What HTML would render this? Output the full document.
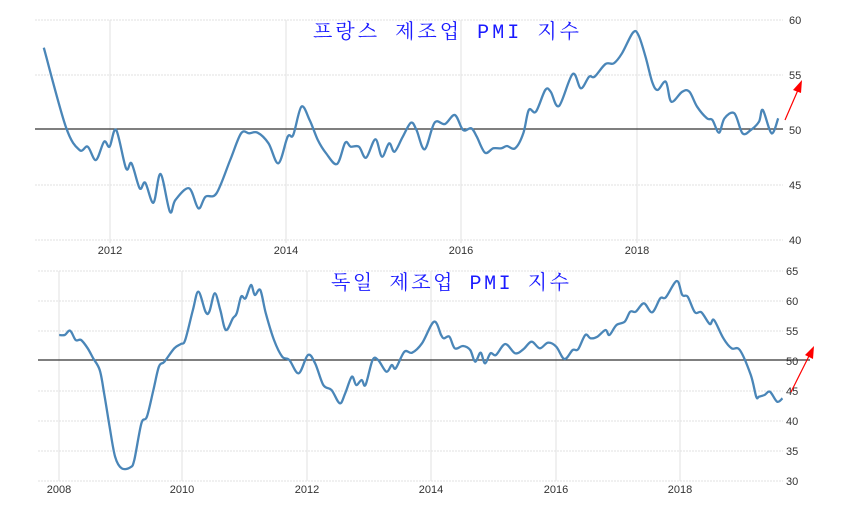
<!DOCTYPE html>
<html><head><meta charset="utf-8"><style>
html,body{margin:0;padding:0;background:#fff;}
svg{display:block;}
.t{font-family:"Liberation Sans",sans-serif;font-size:11px;fill:#333;}
.ti{font-family:"Liberation Mono","Noto Serif CJK SC","Noto Sans CJK KR",monospace;font-size:20px;fill:#1a1aff;letter-spacing:2px;}
</style></head><body>
<svg id="s" width="855" height="529" viewBox="0 0 855 529" xmlns="http://www.w3.org/2000/svg">
<rect width="855" height="529" fill="#fff"/>
<g id="grid" stroke="#e2e2e2" stroke-width="1"></g>
<line x1="35" y1="129" x2="783" y2="129" stroke="#333" stroke-width="1.3"/>
<line x1="38" y1="360" x2="810" y2="360" stroke="#333" stroke-width="1.3"/>
<path id="p1" fill="none" stroke="#4a86b8" stroke-width="2.3" stroke-linejoin="round"/>
<path id="p2" fill="none" stroke="#4a86b8" stroke-width="2.3" stroke-linejoin="round"/>
<text class="ti" x="447" y="38" text-anchor="middle" textLength="268" lengthAdjust="spacing">프랑스 제조업 PMI 지수</text>
<text class="ti" x="451" y="289" text-anchor="middle" textLength="240" lengthAdjust="spacing">독일 제조업 PMI 지수</text>
<g class="t">
<text x="789" y="24">60</text><text x="789" y="79">55</text><text x="789" y="134">50</text><text x="789" y="189">45</text><text x="789" y="244">40</text>
<text x="110" y="254" text-anchor="middle">2012</text><text x="286" y="254" text-anchor="middle">2014</text><text x="461" y="254" text-anchor="middle">2016</text><text x="637" y="254" text-anchor="middle">2018</text>
<text x="786" y="275">65</text><text x="786" y="305">60</text><text x="786" y="335">55</text><text x="786" y="365">50</text><text x="786" y="395">45</text><text x="786" y="425">40</text><text x="786" y="455">35</text><text x="786" y="485">30</text>
<text x="59" y="493" text-anchor="middle">2008</text><text x="182" y="493" text-anchor="middle">2010</text><text x="307" y="493" text-anchor="middle">2012</text><text x="431" y="493" text-anchor="middle">2014</text><text x="556" y="493" text-anchor="middle">2016</text><text x="680" y="493" text-anchor="middle">2018</text>
</g>
<line x1="785" y1="120" x2="798" y2="90" stroke="#f00" stroke-width="1.2"/>
<polygon points="802,80 793,90 801,93" fill="#f00"/>
<line x1="791" y1="392" x2="809" y2="356" stroke="#f00" stroke-width="1.2"/>
<polygon points="814,346 805,355 813,359" fill="#f00"/>
</svg>
<script>
var g=document.getElementById('grid'),ns='http://www.w3.org/2000/svg';
function L(x1,y1,x2,y2,d){var l=document.createElementNS(ns,'line');l.setAttribute('x1',x1);l.setAttribute('y1',y1);l.setAttribute('x2',x2);l.setAttribute('y2',y2);if(d)l.setAttribute('stroke-dasharray','2,1');g.appendChild(l);}
[20,75,185,240].forEach(function(y){L(35,y,783,y,1);});
[110,286,461,637].forEach(function(x){L(x,20,x,243);});
[271,301,331,391,421,451,481].forEach(function(y){L(38,y,783,y,1);});
[59,182,307,431,556,680].forEach(function(x){L(x,271,x,481);});
var a=[80,143,120,380,145,450,160,440,175,480,190,425,200,440,212,390,230,505,240,490,255,565,265,548,280,608,293,522,310,635,320,600,345,565,362,625,375,590,395,580,420,480,440,400,455,400,470,398,490,430,508,490,525,410,535,405,550,320,565,360,580,420,595,460,615,492,630,428,640,440,655,440,668,473,685,418,697,470,710,430,720,455,735,410,750,368,760,390,775,448,793,368,812,372,830,345,845,390,860,385,870,410,885,458,900,445,915,445,925,438,940,445,955,400,965,330,978,335,995,270,1005,275,1020,318,1045,222,1060,265,1075,230,1085,230,1105,192,1120,190,1135,160,1155,98,1165,105,1178,170,1190,245,1200,270,1215,245,1225,305,1245,275,1258,275,1272,320,1290,355,1300,360,1312,398,1322,355,1340,340,1355,400,1370,390,1385,365,1392,330,1408,400,1420,355];
var b=[108,225,118,225,128,212,138,240,148,240,160,265,170,295,182,330,190,400,200,500,210,590,222,625,238,622,245,600,258,490,268,470,280,390,290,320,300,305,318,265,330,252,338,240,352,150,362,95,375,155,382,155,392,100,402,150,412,210,425,175,432,160,440,110,448,115,458,75,465,105,475,90,485,160,500,240,515,290,528,300,545,340,562,285,575,310,590,375,605,390,620,430,630,400,642,350,650,375,660,360,667,375,680,300,690,300,705,335,715,315,722,325,738,275,752,278,770,250,792,185,805,225,810,235,820,230,830,265,845,258,858,270,867,305,877,278,885,310,895,280,905,285,922,252,940,280,955,268,970,245,985,265,1000,248,1015,260,1030,297,1045,270,1055,268,1068,225,1078,235,1090,230,1105,210,1112,225,1125,195,1140,185,1150,155,1160,155,1175,130,1190,157,1205,115,1215,112,1235,63,1245,105,1255,110,1268,157,1280,157,1295,192,1303,180,1320,235,1335,265,1350,270,1370,345,1380,410,1385,410,1395,405,1405,395,1418,425,1428,415];
function path(arr,oy){var p=[];for(var i=0;i<arr.length;i+=2)p.push([arr[i]*0.548,oy+arr[i+1]/3]);
var d='M'+p[0][0].toFixed(1)+','+p[0][1].toFixed(1);
for(var i=0;i<p.length-1;i++){var p0=p[i-1]||p[i],p1=p[i],p2=p[i+1],p3=p[i+2]||p2;
var c1=[p1[0]+(p2[0]-p0[0])/6,p1[1]+(p2[1]-p0[1])/6],c2=[p2[0]-(p3[0]-p1[0])/6,p2[1]-(p3[1]-p1[1])/6];
d+='C'+c1[0].toFixed(1)+','+c1[1].toFixed(1)+' '+c2[0].toFixed(1)+','+c2[1].toFixed(1)+' '+p2[0].toFixed(1)+','+p2[1].toFixed(1);}
return d;}
document.getElementById('p1').setAttribute('d',path(a,0));
document.getElementById('p2').setAttribute('d',path(b,260));
</script>
</body></html>
